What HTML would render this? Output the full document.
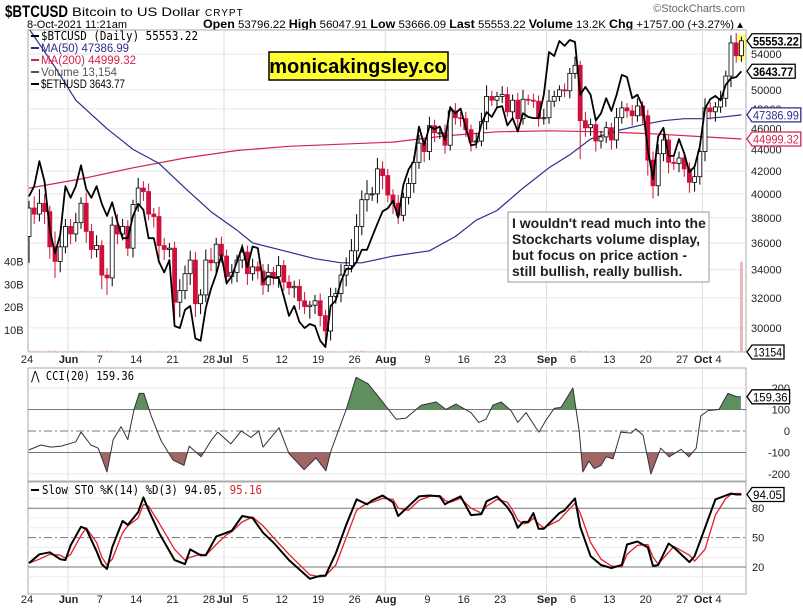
<!DOCTYPE html>
<html><head><meta charset="utf-8">
<style>
body{margin:0;background:#fff;}
svg{display:block;font-family:"Liberation Sans",sans-serif;}
.ax{font-size:11px;fill:#222;}
</style></head>
<body>
<svg id="chart" width="803" height="610" viewBox="0 0 803 610">
  <rect width="803" height="610" fill="#fff"/>
  <text x="5" y="17" font-size="17" font-weight="bold" textLength="63" lengthAdjust="spacingAndGlyphs">$BTCUSD</text>
  <text x="72" y="16" font-size="12" textLength="128" lengthAdjust="spacingAndGlyphs">Bitcoin to US Dollar</text>
  <text x="205" y="16" font-size="10" letter-spacing="1">CRYPT</text>
  <text x="27" y="28" font-size="11" textLength="100" lengthAdjust="spacingAndGlyphs">8-Oct-2021 11:21am</text>
  <text x="203" y="28" font-size="11" textLength="540" lengthAdjust="spacingAndGlyphs"><tspan font-weight="bold" font-size="12">Open</tspan> 53796.22 <tspan font-weight="bold" font-size="12">High</tspan> 56047.91 <tspan font-weight="bold" font-size="12">Low</tspan> 53666.09 <tspan font-weight="bold" font-size="12">Last</tspan> 55553.22 <tspan font-weight="bold" font-size="12">Volume</tspan> 13.2K <tspan font-weight="bold" font-size="12">Chg</tspan> +1757.00 (+3.27%) ▴</text>
  <text x="745" y="12" font-size="11" fill="#666" text-anchor="end">©StockCharts.com</text>

  <g id="mainPanel"></g>
  <g id="cciPanel"></g>
  <g id="stoPanel"></g>
  <g id="dates"></g>

  <rect x="269" y="52" width="179" height="28" fill="#ffff33" stroke="#000" stroke-width="1.5"/>
  <text x="358" y="73" font-size="20" font-weight="bold" text-anchor="middle">monicakingsley.co</text>

  <rect x="508" y="212" width="201" height="70" fill="#fff" stroke="#999"/>
  <text font-size="14" font-weight="bold" fill="#222">
    <tspan x="512" y="228">I wouldn't read much into the</tspan>
    <tspan x="512" y="244">Stockcharts volume display,</tspan>
    <tspan x="512" y="260">but focus on price action -</tspan>
    <tspan x="512" y="276">still bullish, really bullish.</tspan>
  </text>
</svg>
<script>
const closes=[38800,38300,39200,38500,35700,34600,35700,37300,
36700,37600,39200,36900,35500,35800,33600,33400,37400,36700,37300,35600,39100,40500,40200,38300,38100,35800,35500,35600,31700,32500,33700,34700,31600,32200,34700,34500,35900,35000,
33500,33800,34700,35300,33700,34200,33900,32900,33800,33500,34300,33100,32700,32800,31800,31400,31500,31800,30800,29800,32100,32300,33600,34300,35400,37300,39500,40000,40000,42200,41600,
39900,39200,38200,39700,40900,42800,44600,43800,46300,45600,45600,44400,47800,47100,47000,45900,44700,44800,46700,49300,48900,49300,49500,47700,48900,47000,49000,48900,48800,47000,47100,
48800,49300,50000,49900,51800,52700,46800,46100,46400,44800,45200,46100,44900,47100,48100,47800,47300,48300,47300,43000,40700,43600,44900,42800,42700,43200,42200,41000,41500,43800,
48100,47700,48200,49100,51500,55300,53800,55550];
const firstOpen=36500;
const hiW=[6,10,12,8,5,12,8,6, 6,8,5,9,6,8,4,5,7,9,6,5,4,9,6,7,5,8,6,4,5,8,6,7,6,4,8,9,5,6, 5,6,4,6,5,6,4,5,6,4,7,4,5,4,5,6,3,4,5,4,6,4,8,6,9,10,8,12,6,10,7, 6,5,7,4,5,6,8,5,9,6,7,8,5,8,6,7,5,8,9,12,6,5,9,8,6,8,10,5,7,6,9, 12,6,5,7,6,10,5,9,6,8,6,6,5,10,7,5,6,8,5,6,8,9,6,5,7,6,5,6,8,7, 10,6,5,8,6,9,12,5];
const loW=[20,8,6,10,9,12,8,5, 8,6,5,9,7,6,10,12,6,8,5,6,7,6,8,5,9,12,8,6,14,10,6,8,9,7,5,6,8,5, 6,5,7,6,8,5,6,7,5,6,8,6,5,7,6,5,8,6,7,9,6,5,6,8,5,9,7,10,6,8,12, 6,9,7,5,6,8,6,10,8,9,6,8,5,7,8,7,9,6,5,8,6,9,7,5,8,12,6,5,7,8,6, 6,6,5,7,8,6,37,9,8,10,7,6,9,8,6,7,10,6,8,14,11,9,7,10,6,8,7,9,8,7, 9,8,10,6,9,12,8,7];
const eth=[2640,2710,2890,2740,2420,2280,2390,2710,
2630,2710,2860,2690,2630,2710,2590,2510,2600,2470,2370,2370,2510,2590,2550,2370,2370,2230,2170,2240,1890,1880,1970,1990,1830,1820,1980,2080,2160,2270,
2110,2150,2230,2320,2200,2320,2310,2120,2150,2140,2140,2040,1940,1990,1910,1880,1900,1890,1820,1790,1990,2020,2120,2190,2190,2230,2300,2300,2380,2460,2540,
2560,2610,2500,2720,2830,2890,3160,3010,3160,3140,3160,3050,3320,3270,3310,3150,3010,3020,3180,3280,3240,3320,3330,3170,3230,3120,3270,3240,3230,3230,3430,
3830,3790,3940,3890,3950,3930,3430,3500,3430,3210,3270,3400,3290,3430,3610,3590,3400,3430,3330,2980,2760,3080,3150,2930,2930,3060,2950,2810,2850,3000,
3310,3390,3420,3380,3520,3580,3590,3644];
const vol=[0.8,0.7,0.7,0.6,0.9,0.8,0.6,0.6, 0.6,0.6,0.7,0.6,0.6,0.5,0.7,0.8,0.7,0.6,0.5,0.5,0.6,0.7,0.6,0.6,0.5,0.6,0.5,0.5,0.8,0.8,0.6,0.5,0.6,0.5,0.5,0.5,0.5,0.5, 0.5,0.4,0.4,0.4,0.5,0.4,0.4,0.5,0.4,0.4,0.4,0.4,0.4,0.4,0.4,0.4,0.3,0.3,0.4,0.5,0.6,0.5,0.5,0.5,0.6,0.8,0.8,0.6,0.5,0.6,0.5, 0.5,0.5,0.5,0.5,0.6,0.6,0.6,0.5,0.6,0.6,0.5,0.5,0.6,0.5,0.4,0.5,0.5,0.4,0.5,0.5,0.4,0.4,0.4,0.5,0.4,0.4,0.4,0.4,0.4,0.4,0.4, 0.5,0.5,0.5,0.4,0.4,0.4,0.8,0.6,0.5,0.5,0.4,0.4,0.5,0.5,0.5,0.4,0.4,0.4,0.4,0.7,0.7,0.6,0.5,0.5,0.4,0.4,0.4,0.5,0.4,0.5, 0.6,0.4,0.4,0.5,0.6,0.7,0.5,40];
const ma50Days=[0,5,9,15,20,25,30,35,40,43,50,55,60,64,70,77,82,86,90,95,100,104,108,113,118,122,126,130,134,137];
const ma50Vals=[57000,52500,48900,46000,44000,42700,40500,38500,37000,36000,35300,34800,34500,34500,35000,35400,36500,37800,38600,40500,42300,43500,45000,45800,46400,46800,47000,47000,47200,47387];
const ma200Days=[0,10,20,30,40,50,60,70,80,90,100,110,120,130,137];
const ma200Vals=[40500,41300,42300,43200,43900,44300,44500,44700,45300,45700,45800,45700,45500,45200,45000];
const cciDays=[0,2.3,4.2,6.2,9,10,11.9,13.3,15,16.2,17.7,19,20.2,21.2,22.1,23.5,25.4,27.7,29.8,30.8,33.1,35,36.3,38.8,40.8,42.7,44.2,45,48.1,50,52.9,55.2,57.1,58.1,61,62.9,65.2,67.7,70.6,72.5,75.4,78.3,80.2,82.1,85,86.5,87.9,89.2,90.8,92.7,94,95.6,97.5,98.1,99.4,101,102.3,104.6,105.8,106.5,107.7,108.7,110,111,112.3,113.8,115.8,116.7,118.1,119.6,121.5,123.1,125.4,126.9,128.3,129.2,130.6,132.7,134.4,136,136.9];
const cciVals=[-88,-65,-75,-70,-50,-5,-65,-80,-190,-40,20,-40,100,175,175,70,-45,-135,-160,-70,-120,-45,-5,-60,0,-30,0,-75,15,-105,-180,-125,-185,-90,100,250,220,145,55,60,120,135,100,125,85,40,55,120,135,95,40,85,14,-5,50,105,110,200,0,-190,-140,-175,-160,-120,-130,-5,-10,10,-20,-200,-80,-120,-85,-120,-80,70,95,100,175,160,159];
const stoDays=[0,2,4,6,7,8,10,11,13,14,15,16,18,19,21,22,23,25,28,30,31,33,34,36,38,39,41,43,45,47,50,54,56,57,59,61,63,65,66,68,70,71,73,75,77,79,80,81,83,85,87,88,90,92,93,94,95,96,97,98,99,102,103,105,106,108,110,112,114,115,117,119,120,121,123,124,127,128,130,132,134,135,136,137];
const stoK=[24,33,35,28,27,42,61,59,36,23,18,40,67,63,76,91,78,55,27,23,38,32,32,51,55,57,72,70,55,45,27,8,11,11,34,63,89,84,88,93,86,72,82,92,93,92,84,87,92,73,74,87,92,81,73,60,66,66,75,59,59,75,78,90,61,31,22,19,22,43,46,40,21,22,44,40,25,31,60,89,93,95,94,94];
const stoD=[24,28,33,32,29,33,52,60,45,30,22,28,55,62,70,84,82,65,38,27,30,33,32,43,53,56,66,71,62,50,33,12,10,11,22,50,78,85,86,90,89,80,78,88,92,93,88,86,90,80,75,82,89,86,78,68,64,65,70,64,60,68,74,85,75,45,28,21,20,33,42,43,30,23,35,41,32,26,38,73,90,94,95,95];
const priceTicks=[54000,50000,48000,46000,44000,42000,40000,38000,36000,34000,32000,30000];
const volTicks=[10,20,30,40];
const cciTicks=[200,100,0,-100,-200];
const stoTicks=[80,50,20];
const dateLabels=[[0,'24',0],[8,'Jun',1],[14,'7',0],[21,'14',0],[28,'21',0],[35,'28',0],[38,'Jul',1],[42,'5',0],[49,'12',0],[56,'19',0],[63,'26',0],[69,'Aug',1],[77,'9',0],[84,'16',0],[91,'23',0],[100,'Sep',1],[105,'6',0],[112,'13',0],[119,'20',0],[126,'27',0],[130,'Oct',1],[133,'4',0]];
const monthStarts=[8,38,69,100,130];

const NS='http://www.w3.org/2000/svg';
const L=28,R=746;
const X=d=>29+d*5.2;
const PY=p=>54+(Math.log(54000)-Math.log(p))*466;
const EY=p=>40+(Math.log(3950)-Math.log(p))*388;
const VY=v=>352.5-v*2.27;
const CY=v=>431-v*0.215;
const SY=v=>567-(v-20)*0.98;
function el(parent,tag,attrs){const e=document.createElementNS(NS,tag);for(const k in attrs)e.setAttribute(k,attrs[k]);parent.appendChild(e);return e;}
const main=document.getElementById('mainPanel');
const cciG=document.getElementById('cciPanel');
const stoG=document.getElementById('stoPanel');
const dates=document.getElementById('dates');

function frame(g,y0,y1,name){
  const r=el(g,'rect',{x:L,y:y0,width:R-L,height:y1-y0,fill:'#fff',stroke:'#aaa'});
  
  
  monthStarts.forEach(d=>{const l=el(g,'line',{x1:X(d)-2.6,x2:X(d)-2.6,y1:y0,y2:y1,stroke:'#ddd'});
    
    });
}
frame(main,30,352,'price-panel-frame');
frame(cciG,368,481,'cci-panel-frame');
frame(stoG,482,594,'sto-panel-frame');

priceTicks.forEach(p=>{const y=PY(p);
  const l=el(main,'line',{x1:L,x2:R,y1:y,y2:y,stroke:'#e6e6e6'});
  
  
  const t=el(main,'text',{x:751,y:y+4,class:'ax'});t.textContent=p;
  
  });
volTicks.forEach(v=>{const t=el(main,'text',{x:4,y:VY(v)+4,class:'ax'});t.textContent=v+'B';
  
  });

vol.forEach((v,i)=>{const y=VY(v);const b=el(main,'rect',{x:X(i)-1.5,y:y,width:3,height:352.5-y,fill:'#eab8b8'});
  
  });

function line(g,xs,ys,color,w,name){const pts=xs.map((x,i)=>x.toFixed(1)+','+ys[i].toFixed(1)).join(' ');
  const p=el(g,'polyline',{points:pts,fill:'none',stroke:color,'stroke-width':w,'stroke-linejoin':'round'});
  
  return p;}
const clip=el(main,'clipPath',{id:'mainClip'});el(clip,'rect',{x:L,y:30,width:R-L,height:322});
const mg=el(main,'g',{'clip-path':'url(#mainClip)'});
line(mg,ma200Days.map(X),ma200Vals.map(PY),'#d4244a',1.2,'ma200-line');
line(mg,ma50Days.map(X),ma50Vals.map(PY),'#2b2e8c',1.2,'ma50-line');

const hl=el(mg,'rect',{x:X(137)-4,y:PY(56300),width:8,height:PY(53300)-PY(56300),fill:'#ffff66'});



closes.forEach((c,i)=>{
  const o=i===0?firstOpen:closes[i-1];
  const hi=Math.max(o,c)+(hiW[i]||5)*100, lo=Math.min(o,c)-(loW[i]||5)*100;
  const down=c<o, col=down?'#d0103a':'#000';
  const x=X(i);
  const w=el(mg,'line',{x1:x,x2:x,y1:PY(hi),y2:PY(lo),stroke:col,'stroke-width':1});
  
  
  const yt=PY(Math.max(o,c)),yb=PY(Math.min(o,c));
  const b=el(mg,'rect',{x:x-2,y:yt,width:4,height:Math.max(1,yb-yt),fill:down?'#d0103a':'#fff',stroke:col,'stroke-width':0.8});
  
  
});
line(mg,eth.map((v,i)=>X(i)),eth.map(EY),'#000',1.8,'ethusd-line');

const leg=[['#000','$BTCUSD (Daily) 55553.22',40,157],['#2b2e8c','MA(50) 47386.99',52,88],['#d4244a','MA(200) 44999.32',64,95],['#555','Volume 13,154',76,76],['#000','$ETHUSD 3643.77',88,84]];
leg.forEach(([c,t,y,w],k)=>{
  const s=el(main,'line',{x1:31,x2:39,y1:y-4,y2:y-4,stroke:c,'stroke-width':2});
  
  
  const tx=el(main,'text',{x:41,y:y,fill:c,'font-size':k===0?12.5:11.5,textLength:w,lengthAdjust:'spacingAndGlyphs','font-family':k===0?'DejaVu Sans Mono,monospace':'Liberation Sans,sans-serif'});tx.textContent=t;
  
  
});

function tag(g,y,txt,color,bold){
  const w=txt.length*5.6+4;
  const p=el(g,'path',{d:`M747 ${y} l5 -7 h${w} v14 h-${w} z`,fill:'#fff',stroke:color,'stroke-width':1.3});
  
  
  const t=el(g,'text',{x:753,y:y+4.5,fill:color,'font-size':11.5,'font-weight':bold?'bold':'normal',textLength:w-3,lengthAdjust:'spacingAndGlyphs'});t.textContent=txt;
  
  
}
tag(main,PY(55553),'55553.22','#000',true);
tag(main,EY(3644),'3643.77','#000',true);
tag(main,PY(47387),'47386.99','#2b2e8c',false);
tag(main,PY(44999),'44999.32','#d4244a',false);
tag(main,352,'13154','#000',false);

cciTicks.forEach(v=>{const y=CY(v);
  const st=(v===100||v===-100)?{stroke:'#777'}:(v===0?{stroke:'#777','stroke-dasharray':'8,3,2,3'}:{stroke:'#e6e6e6'});
  const l=el(cciG,'line',Object.assign({x1:L,x2:R,y1:y,y2:y},st));
  
  
  const t=el(cciG,'text',{x:790,y:y+4,class:'ax','text-anchor':'end'});t.textContent=v;
  
  });
const cx=cciDays.map(X),cy=cciVals.map(CY);
const polyPts=cx.map((x,i)=>x.toFixed(1)+','+cy[i].toFixed(1)).join(' ');
const cA=el(cciG,'clipPath',{id:'cciAbove'});el(cA,'rect',{x:L,y:368,width:R-L,height:CY(100)-368});
const cB=el(cciG,'clipPath',{id:'cciBelow'});el(cB,'rect',{x:L,y:CY(-100),width:R-L,height:481-CY(-100)});
const fa=el(cciG,'polygon',{points:`${cx[0]},${CY(100)} ${polyPts} ${cx[cx.length-1]},${CY(100)}`,fill:'#5f8f5f','clip-path':'url(#cciAbove)'});


const fb=el(cciG,'polygon',{points:`${cx[0]},${CY(-100)} ${polyPts} ${cx[cx.length-1]},${CY(-100)}`,fill:'#a06565','clip-path':'url(#cciBelow)'});


line(cciG,cx,cy,'#333',1,'cci-line');
const ct=el(cciG,'text',{x:31,y:380,'font-size':12.5,'font-family':'DejaVu Sans Mono,monospace',textLength:103,lengthAdjust:'spacingAndGlyphs'});ct.textContent='⋀ CCI(20) 159.36';


tag(cciG,CY(159),'159.36','#000',false);

[10,30,40,60,70,90].forEach(v=>{const l=el(stoG,'line',{x1:L,x2:R,y1:SY(v),y2:SY(v),stroke:'#ececec'});
  
  });
stoTicks.forEach(v=>{const y=SY(v);
  const st=v===50?{stroke:'#777','stroke-dasharray':'8,3,2,3'}:{stroke:'#777'};
  const l=el(stoG,'line',Object.assign({x1:L,x2:R,y1:y,y2:y},st));
  
  
  const t=el(stoG,'text',{x:752,y:y+4,class:'ax'});t.textContent=v;
  
  });
line(stoG,stoDays.map(X),stoD.map(SY),'#e0202a',1.3,'sto-d-line');
line(stoG,stoDays.map(X),stoK.map(SY),'#000',2,'sto-k-line');
const sl=el(stoG,'line',{x1:31,x2:39,y1:490,y2:490,stroke:'#000','stroke-width':2});


const stt=el(stoG,'text',{x:42,y:494,'font-size':12,'font-family':'DejaVu Sans Mono,monospace',textLength:220,lengthAdjust:'spacingAndGlyphs'});
stt.innerHTML='Slow STO %K(14) %D(3) 94.05, <tspan fill="#e0202a">95.16</tspan>';


tag(stoG,SY(94),'94.05','#000',false);

[363,603].forEach(y=>dateLabels.forEach(([d,t,b])=>{
  const tx=el(dates,'text',{x:X(d)-2,y:y,'text-anchor':'middle',class:'ax','font-weight':b?'bold':'normal','font-size':b?12:11.5});tx.textContent=t;
  
  
}));
</script>
</body></html>
